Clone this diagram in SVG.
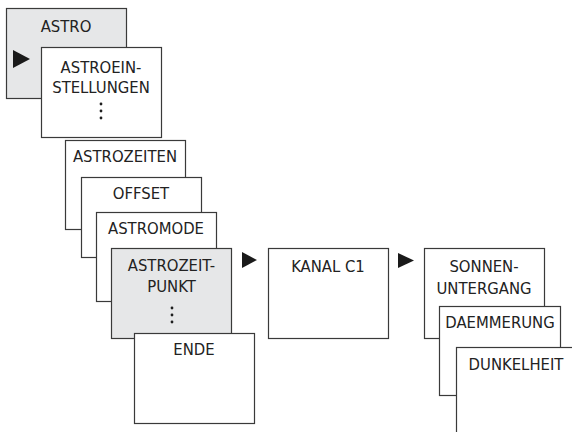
<svg xmlns="http://www.w3.org/2000/svg" width="572" height="432" viewBox="0 0 572 432">
<style>
.box{fill:#ffffff;stroke:#3a3a3a;stroke-width:1.2}
.sel{fill:#e6e7e8;stroke:#3a3a3a;stroke-width:1.2}
.t{font-family:"DejaVu Sans Condensed","DejaVu Sans",sans-serif;font-stretch:condensed;font-size:16.5px;fill:#222222;text-anchor:middle}
.dot{fill:#1e1e1e}
.arr{fill:#1a1a1a}
</style>
<rect width="572" height="432" fill="#ffffff"/>
<g id="astro">
<rect class="sel" x="6.5" y="8.5" width="120" height="90"/>
<text class="t" x="66" y="32">ASTRO</text>
</g>
<g id="astroeinstellungen">
<rect class="box" x="41.5" y="47.5" width="120" height="90"/>
<text class="t" x="101" y="73">ASTROEIN-</text>
<text class="t" x="101" y="93">STELLUNGEN</text>
<circle class="dot" cx="101" cy="104" r="1.4"/>
<circle class="dot" cx="101" cy="111" r="1.4"/>
<circle class="dot" cx="101" cy="118" r="1.4"/>
</g>
<g id="astrozeiten">
<rect class="box" x="65.5" y="140.5" width="120" height="89"/>
<text class="t" x="125" y="162">ASTROZEITEN</text>
</g>
<g id="offset">
<rect class="box" x="81.5" y="177.5" width="120" height="80"/>
<text class="t" x="141" y="199">OFFSET</text>
</g>
<g id="astromode">
<rect class="box" x="96.5" y="212.5" width="120" height="89"/>
<text class="t" x="156" y="234">ASTROMODE</text>
</g>
<g id="astrozeitpunkt">
<rect class="sel" x="111.5" y="248.5" width="120" height="90"/>
<text class="t" x="171.5" y="271">ASTROZEIT-</text>
<text class="t" x="171.5" y="292">PUNKT</text>
<circle class="dot" cx="172" cy="308" r="1.4"/>
<circle class="dot" cx="172" cy="315" r="1.4"/>
<circle class="dot" cx="172" cy="322" r="1.4"/>
</g>
<g id="ende">
<rect class="box" x="134.5" y="333.5" width="120" height="90"/>
<text class="t" x="194" y="355">ENDE</text>
</g>
<g id="kanal">
<rect class="box" x="268.5" y="248.5" width="120" height="90"/>
<text class="t" x="328" y="272">KANAL C1</text>
</g>
<g id="sonnenuntergang">
<rect class="box" x="424.5" y="248.5" width="120" height="90"/>
<text class="t" x="484" y="272">SONNEN-</text>
<text class="t" x="484" y="294">UNTERGANG</text>
</g>
<g id="daemmerung">
<rect class="box" x="439.5" y="306.5" width="121" height="89"/>
<text class="t" x="500" y="328">DAEMMERUNG</text>
</g>
<g id="dunkelheit">
<rect class="box" x="456.5" y="347.5" width="122" height="92"/>
<text class="t" x="516" y="370">DUNKELHEIT</text>
</g>
<g id="connectors">
<polygon class="arr" points="13,50 30,59 13,68"/>
<polygon class="arr" points="242,252 257,260 242,268"/>
<polygon class="arr" points="398,253 414,260.5 398,268"/>
</g>
</svg>
